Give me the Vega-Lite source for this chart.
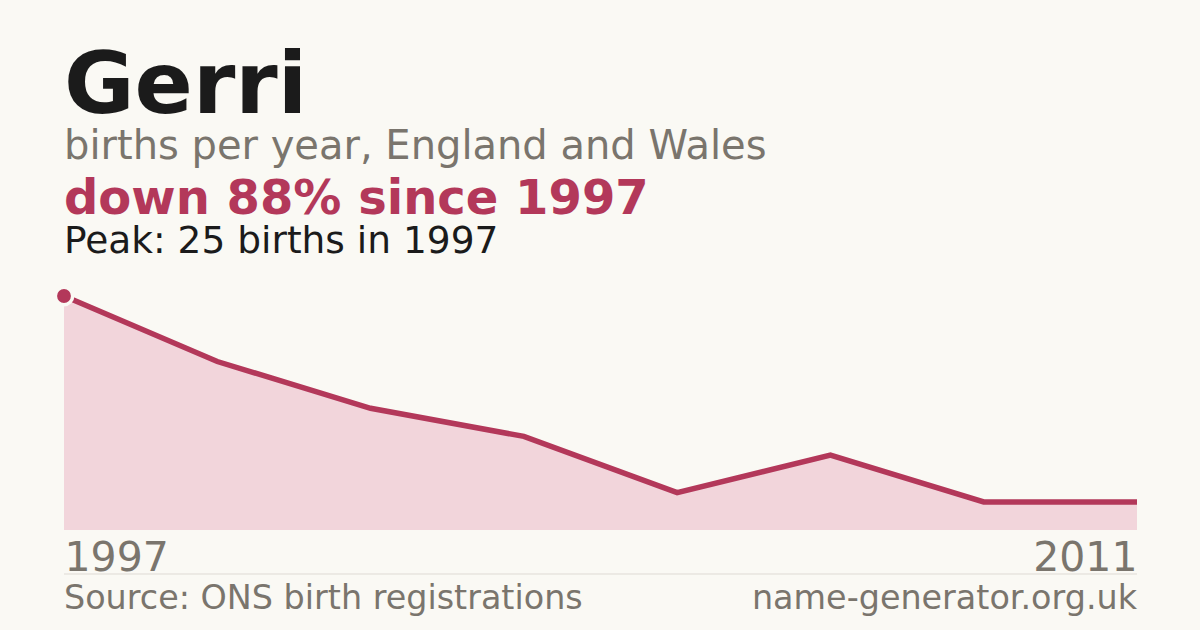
{
  "$schema": "https://vega.github.io/schema/vega-lite/v6.json",
  "width": 1073,
  "height": 234,
  "autosize": {"type": "none"},
  "padding": {"left": 64, "right": 63, "top": 296, "bottom": 100},
  "background": "#faf9f4",
  "config": {"view": {"stroke": null}, "font": "DejaVu Sans"},
  "datasets": {
    "births": [
      {"year": 1997, "births": 25},
      {"year": 1999, "births": 18},
      {"year": 2001, "births": 13},
      {"year": 2003, "births": 10},
      {"year": 2005, "births": 4},
      {"year": 2007, "births": 8},
      {"year": 2009, "births": 3},
      {"year": 2011, "births": 3}
    ],
    "one": [{"k": 1}]
  },
  "layer": [
    {
      "data": {"name": "births"},
      "encoding": {
        "x": {"field": "year", "type": "quantitative",
          "scale": {"domain": [1997, 2011], "nice": false, "zero": false},
          "axis": {"values": [1997, 2011], "format": "d", "labelFlush": true, "labelFontSize": 41, "labelColor": "#7a756d", "labelBaseline": "alphabetic", "labelPadding": 40, "domain": false, "ticks": false, "grid": false, "title": null}},
        "y": {"field": "births", "type": "quantitative", "scale": {"domain": [0, 25], "nice": false}, "axis": null}
      },
      "layer": [
        {"mark": {"type": "area", "color": "#f2d5db", "opacity": 1}},
        {"mark": {"type": "line", "color": "#b3385a", "strokeWidth": 5.5}},
        {"transform": [{"filter": {"field": "births", "equal": 25}}],
         "mark": {"type": "point", "shape": "circle", "filled": true, "color": "#b3385a", "size": 300, "stroke": "#faf9f4", "strokeWidth": 3.5, "opacity": 1, "clip": false}}
      ]
    },
    {"data": {"name": "one"},
     "mark": {"type": "text", "align": "left", "baseline": "alphabetic", "fontSize": 86, "fontWeight": "bold", "color": "#1b1b1b", "clip": false},
     "encoding": {"x": {"datum": 1997, "type": "quantitative"}, "y": {"datum": 44.55, "type": "quantitative"}, "text": {"value": "Gerri"}}},
    {"data": {"name": "one"},
     "mark": {"type": "text", "align": "left", "baseline": "alphabetic", "fontSize": 40, "color": "#7a756d", "clip": false},
     "encoding": {"x": {"datum": 1997, "type": "quantitative"}, "y": {"datum": 39.64, "type": "quantitative"}, "text": {"value": "births per year, England and Wales"}}},
    {"data": {"name": "one"},
     "mark": {"type": "text", "align": "left", "baseline": "alphabetic", "fontSize": 48, "fontWeight": "bold", "color": "#b3385a", "clip": false},
     "encoding": {"x": {"datum": 1997, "type": "quantitative"}, "y": {"datum": 33.73, "type": "quantitative"}, "text": {"value": "down 88% since 1997"}}},
    {"data": {"name": "one"},
     "mark": {"type": "text", "align": "left", "baseline": "alphabetic", "fontSize": 37.5, "color": "#1b1b1b", "clip": false},
     "encoding": {"x": {"datum": 1997, "type": "quantitative"}, "y": {"datum": 29.63, "type": "quantitative"}, "text": {"value": "Peak: 25 births in 1997"}}},
    {"data": {"name": "one"},
     "mark": {"type": "rule", "color": "#dedbd4", "strokeWidth": 1, "clip": false},
     "encoding": {"x": {"datum": 1997, "type": "quantitative"}, "x2": {"datum": 2011}, "y": {"datum": -4.7, "type": "quantitative"}}},
    {"data": {"name": "one"},
     "mark": {"type": "text", "align": "left", "baseline": "alphabetic", "fontSize": 33.4, "color": "#7a756d", "clip": false},
     "encoding": {"x": {"datum": 1997, "type": "quantitative"}, "y": {"datum": -8.47, "type": "quantitative"}, "text": {"value": "Source: ONS birth registrations"}}},
    {"data": {"name": "one"},
     "mark": {"type": "text", "align": "right", "baseline": "alphabetic", "fontSize": 33.4, "color": "#7a756d", "clip": false},
     "encoding": {"x": {"datum": 2011, "type": "quantitative"}, "y": {"datum": -8.47, "type": "quantitative"}, "text": {"value": "name-generator.org.uk"}}}
  ]
}
